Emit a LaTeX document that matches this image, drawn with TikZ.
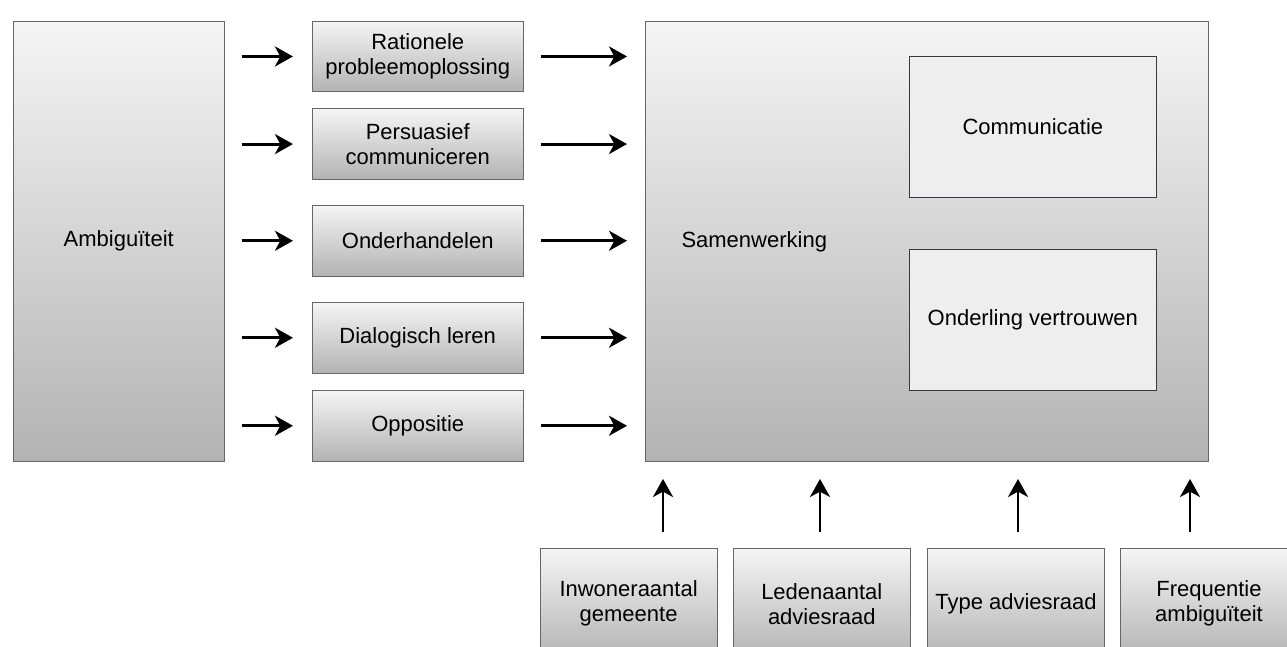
\documentclass[tikz,border=0pt]{standalone}
\usepackage{fontspec}
\setmainfont{Liberation Sans}
\usetikzlibrary{arrows.meta}

\definecolor{gradtop}{RGB}{245,245,245}
\definecolor{gradbot}{RGB}{179,179,179}
\definecolor{boxline}{RGB}{102,102,102}
\definecolor{innerfill}{RGB}{238,238,238}
\definecolor{innerline}{RGB}{54,57,61}

\tikzset{every picture/.style={line width=0.75pt}}
\tikzset{
  txt/.style={font=\fontsize{16.5}{18.75}\selectfont, align=center, inner sep=0.75pt},
  gradbox/.style={txt, draw=boxline, top color=gradtop, bottom color=gradbot, anchor=north west},
  sidebox/.style={gradbox, minimum width=158.6pt, minimum height=52.9pt},
  footbox/.style={gradbox, minimum width=132.75pt, minimum height=82.5pt},
  innerbox/.style={txt, draw=innerline, fill=innerfill, anchor=north west, minimum width=185pt, minimum height=105.5pt},
  arr/.style={-{Stealth[length=13.5pt,width=15pt,inset=4pt]}, line width=2.2pt, black},
}

\begin{document}
\begin{tikzpicture}[x=0.75pt,y=0.75pt,yscale=-1,xscale=1]
        \useasboundingbox (0,0) rectangle (1287,646);
        \clip (0,0) rectangle (1287,646);

        % Ambiguiteit
        \node [gradbox, minimum width=158.6pt, minimum height=330pt] (amb) at (12.5,20.7) {Ambiguïteit};

        % middle column
        \node [sidebox] (rat) at (311.5,20.7) {Rationele\\probleemoplossing};
        \node [sidebox] (per) at (311.5,108.3) {Persuasief\\communiceren};
        \node [sidebox] (ond) at (311.5,205) {Onderhandelen};
        \node [sidebox] (dia) at (311.5,302) {Dialogisch leren};
        \node [sidebox] (opp) at (311.5,390) {Oppositie};

        % Samenwerking
        \node [gradbox, minimum width=422.6pt, minimum height=330.2pt] (sam) at (645,20.7) {};
        \node [txt, anchor=west] (samtxt) at (680,241.7) {Samenwerking};
        \node [innerbox] (com) at (909,56) {Communicatie};
        \node [innerbox] (ver) at (909,249) {Onderling vertrouwen};

        % bottom row
        \node [footbox] (inw) at (539.6,548.3) {Inwoneraantal\\gemeente};
        \node [footbox] (led) at (732.8,548.3) {Ledenaantal\\adviesraad};
        \node [footbox] (typ) at (927,548.3) {Type adviesraad};
        \node [footbox] (fre) at (1120,548.3) {Frequentie\\ambiguïteit};

        % arrows in
        \foreach \b in {rat,per,ond,dia,opp}
          \draw [arr, shorten <=12.5pt, shorten >=13.9pt] (amb.east |- \b.west) -- (\b.west);
        % arrows out
        \foreach \b in {rat,per,ond,dia,opp}
          \draw [arr, shorten <=12.75pt, shorten >=13.5pt] (\b.east) -- (sam.west |- \b.east);
        % arrows up
        \foreach \b/\x in {inw/663,led/820,typ/1018,fre/1190}
          \draw [arr, shorten <=12pt, shorten >=12.75pt] (\x,0 |- \b.north) -- (\x,0 |- sam.south);

\end{tikzpicture}
\end{document}
